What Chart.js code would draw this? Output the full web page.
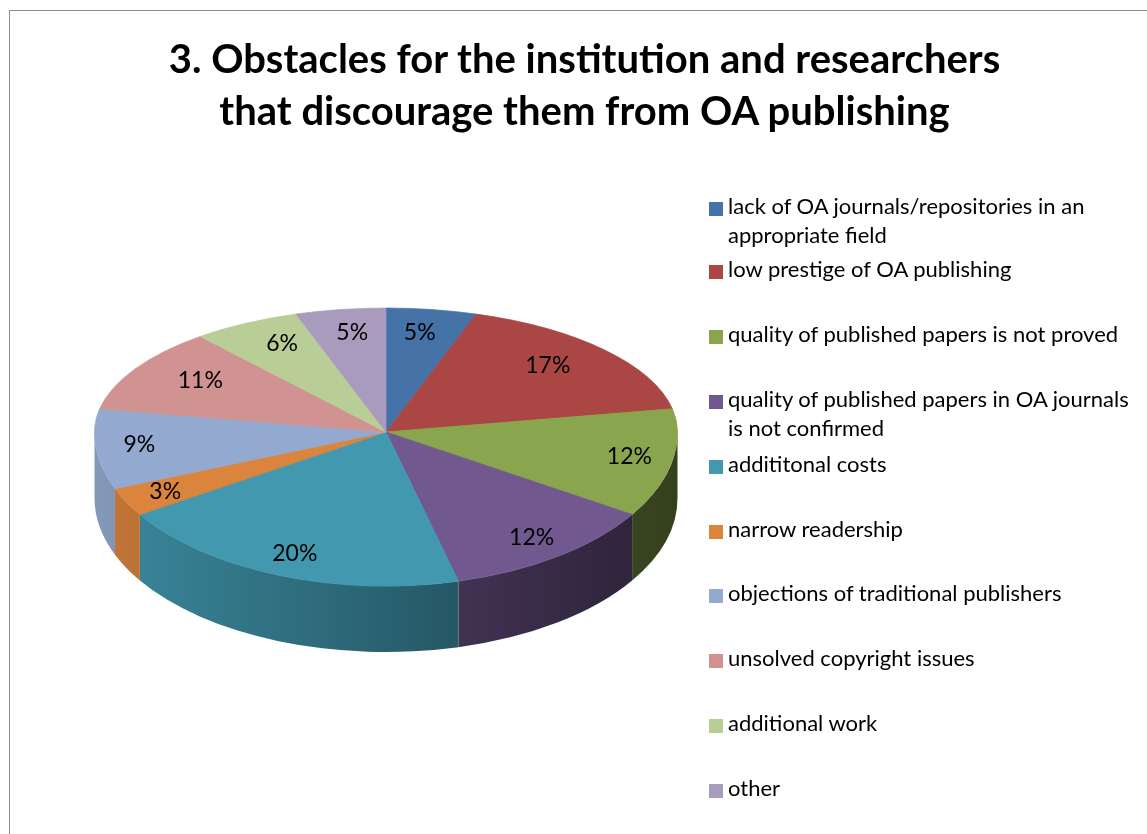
<!DOCTYPE html>
<html>
<head>
<meta charset="utf-8">
<title>Obstacles for OA publishing</title>
<script src="https://cdn.jsdelivr.net/npm/chart.js@4.4.1/dist/chart.umd.min.js"></script>
<style>
  html, body { margin: 0; padding: 0; background: #fff; overflow: hidden; }
  body { width: 1147px; height: 834px; position: relative; font-family: Lato, 'Open Sans', sans-serif; color: #000; }
  #frame {
    position: absolute; left: 9px; top: 10px; width: 1300px; height: 1000px;
    border-left: 1px solid #8c8c8c; border-top: 1px solid #8c8c8c;
  }
  #pieChart { position: absolute; left: 0; top: 0; }
  #title {
    position: absolute; left: 0; top: 32px; width: 1169px;
    text-align: center; font-weight: 700; font-size: 40px; line-height: 52px;
  }
  .legend-item { position: absolute; left: 709px; display: flex; align-items: flex-start; }
  .legend-box { width: 14px; height: 14px; margin-top: 11px; margin-right: 5px; flex: none; }
  .legend-text { font-size: 22px; line-height: 29px; width: 414px; }
</style>
</head>
<body>
<div id="frame"></div>
<canvas id="pieChart" width="1147" height="834"></canvas>
<div id="title">3. Obstacles for the institution and researchers<br>that discourage them from OA publishing</div>
<div id="legend"></div>

<script>
// ============================================
// 数据
// ============================================
const labels = [
  'lack of OA journals/repositories in an appropriate field',
  'low prestige of OA publishing',
  'quality of published papers is not proved',
  'quality of published papers in OA journals is not confirmed',
  'addititonal costs',
  'narrow readership',
  'objections of traditional publishers',
  'unsolved copyright issues',
  'additional work',
  'other',
];
const values = [5, 17, 12, 12, 20, 3, 9, 11, 6, 5];
const colors = [
  '#4572A7', '#AA4643', '#89A54E', '#71588F', '#4198AF',
  '#DB843D', '#93A9CF', '#D19392', '#B9CD96', '#A99BBD',
];

// layout: vertical centre of each legend row
const legendRowY = [209, 272, 337, 402, 467, 532, 596, 661, 726, 791];

// 3D look (far half is flatter than near half -> fake perspective)
const APEX_Y = 432;       // where the slices meet on screen
const RY_BACK = 124;      // depth of the far half of the top face
const RY_FRONT = 154;     // depth of the near half
const DEPTH = 66;         // thickness of the pie
// label distance as fraction of radius
const LABEL_FRONT = 0.85;
const LABEL_BACK_X = 0.74;
const LABEL_BACK_Y = 0.81;

// ============================================
// Legend (HTML)
// ============================================
const legendEl = document.getElementById('legend');
labels.forEach((lab, i) => {
  const item = document.createElement('div');
  item.className = 'legend-item';
  item.style.top = (legendRowY[i] - 18) + 'px';
  item.innerHTML = `<span class="legend-box" style="background:${colors[i]}"></span>` +
    `<span class="legend-text">${lab}</span>`;
  legendEl.appendChild(item);
});

function shade(hex, k) {
  const n = parseInt(hex.slice(1), 16);
  const r = Math.round(((n >> 16) & 255) * k);
  const g = Math.round(((n >> 8) & 255) * k);
  const b = Math.round((n & 255) * k);
  return `rgb(${r},${g},${b})`;
}

// clip to one half of the screen and squash the pie into it
function squash(chart, front) {
  const ctx = chart.ctx;
  const arc = chart.getDatasetMeta(0).data[0];
  const ry = front ? RY_FRONT : RY_BACK;
  ctx.save();
  ctx.beginPath();
  if (front) ctx.rect(0, APEX_Y, chart.width, chart.height - APEX_Y);
  else ctx.rect(0, 0, chart.width, APEX_Y);
  ctx.clip();
  ctx.translate(arc.x, APEX_Y);
  ctx.scale(1, ry / arc.outerRadius);
  ctx.translate(-arc.x, -arc.y);
}

// ============================================
// Plugin — 3D pie: side wall, two-half top face, labels
// ============================================
const pie3d = {
  id: 'pie3d',
  beforeDatasetsDraw(chart) {
    const ctx = chart.ctx;
    const arcs = chart.getDatasetMeta(0).data;
    if (!arcs.length) return;
    const cx = arcs[0].x;
    const r = arcs[0].outerRadius;

    // near side wall (angles 0..PI)
    arcs.forEach((arc, i) => {
      const s = Math.max(arc.startAngle, 0);
      const e = Math.min(arc.endAngle, Math.PI);
      if (e <= s) return;
      const grad = ctx.createLinearGradient(cx - r, 0, cx + r, 0);
      grad.addColorStop(0, shade(colors[i], 0.9));
      grad.addColorStop(1, shade(colors[i], 0.38));
      ctx.beginPath();
      ctx.ellipse(cx, APEX_Y, r, RY_FRONT, 0, s, e);
      ctx.ellipse(cx, APEX_Y + DEPTH, r, RY_FRONT, 0, e, s, true);
      ctx.closePath();
      ctx.fillStyle = grad;
      ctx.fill();
    });

    // far half of the top face is drawn by Chart.js itself
    squash(chart, false);
  },
  afterDatasetsDraw(chart) {
    const ctx = chart.ctx;
    const meta = chart.getDatasetMeta(0);
    const arcs = meta.data;
    if (!arcs.length) return;
    ctx.restore();

    // near half of the top face
    squash(chart, true);
    meta.controller.draw();
    ctx.restore();

    // percentage labels
    ctx.save();
    ctx.font = '23px Lato, "Open Sans", sans-serif';
    ctx.fillStyle = '#000';
    ctx.textAlign = 'center';
    ctx.textBaseline = 'middle';
    arcs.forEach((arc, i) => {
      const mid = (arc.startAngle + arc.endAngle) / 2;
      const r = arc.outerRadius;
      const front = Math.sin(mid) >= 0;
      const fx = front ? LABEL_FRONT : LABEL_BACK_X;
      const fy = front ? LABEL_FRONT : LABEL_BACK_Y;
      const ry = front ? RY_FRONT : RY_BACK;
      const x = arc.x + Math.cos(mid) * r * fx;
      const y = APEX_Y + Math.sin(mid) * ry * fy;
      ctx.fillText(values[i] + '%', x, y);
    });
    ctx.restore();
  },
};

// ============================================
// Chart
// ============================================
new Chart(document.getElementById('pieChart'), {
  type: 'pie',
  data: {
    labels,
    datasets: [{
      data: values,
      backgroundColor: colors,
      borderColor: colors,
      borderWidth: 1,
      clip: false,
    }],
  },
  options: {
    responsive: false,
    devicePixelRatio: 1,
    animation: false,
    events: [],
    layout: { padding: { left: 94, right: 469, top: 100, bottom: 150 } },
    plugins: {
      legend: { display: false },
      tooltip: { enabled: false },
    },
  },
  plugins: [pie3d],
});
</script>
</body>
</html>
